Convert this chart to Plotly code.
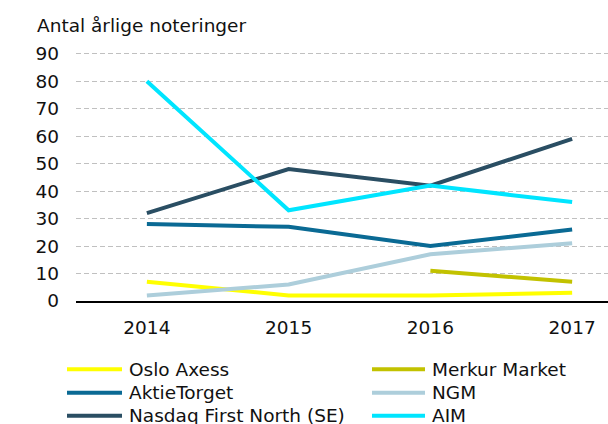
import plotly.graph_objects as go

years = ["2014", "2015", "2016", "2017"]
series_names = ["Oslo Axess", "Merkur Market", "AktieTorget", "NGM",
                "Nasdaq First North (SE)", "AIM"]
oslo_axess = [7, 2, 2, 3]
merkur_market = [None, None, 11, 7]
aktietorget = [28, 27, 20, 26]
ngm = [2, 6, 17, 21]
nasdaq_fn_se = [32, 48, 42, 59]
aim = [80, 33, 42, 36]
y_ticks = [0, 10, 20, 30, 40, 50, 60, 70, 80, 90]
y_title = "Antal årlige noteringer"

colors = ["#FFFF00", "#C2C200", "#0A6A94", "#ADCEDB", "#2A4E63", "#00E5FF"]
values = [oslo_axess, merkur_market, aktietorget, ngm, nasdaq_fn_se, aim]

W, H = 608, 440
FONT = "DejaVu Sans"
FS = 18.5


def page_y(t):
    # compensate for the vertical mapping observed in the rendered picture
    return (t - 4.4) / 0.968


fig = go.Figure()
for name, vals, col in zip(series_names, values, colors):
    fig.add_trace(go.Scatter(x=years, y=vals, mode="lines", name=name,
                             line=dict(color=col, width=4),
                             connectgaps=False, showlegend=False))

px = lambda x: x / W
py = lambda y: 1 - page_y(y) / H

legend_cols = [(67, 122, 127), (372, 425, 430)]
legend_rows = [369.5, 393, 416]
shapes = []
annotations = []
for i, (name, col) in enumerate(zip(series_names, colors)):
    c = legend_cols[i % 2]
    r = legend_rows[i // 2]
    shapes.append(dict(type="line", xref="paper", yref="paper",
                       x0=px(c[0]), x1=px(c[1]), y0=py(r), y1=py(r),
                       line=dict(color=col, width=4)))
    annotations.append(dict(text=name, xref="paper", yref="paper",
                            x=px(c[2]), y=py(r), xanchor="left",
                            yanchor="middle", showarrow=False,
                            font=dict(family=FONT, size=FS, color="#111111")))

annotations.append(dict(text=y_title, xref="paper", yref="paper",
                        x=px(35), y=py(25), xanchor="left", yanchor="middle",
                        showarrow=False,
                        font=dict(family=FONT, size=FS, color="#111111")))

fig.update_layout(
    width=W, height=H,
    margin=dict(l=0, r=0, t=0, b=0),
    paper_bgcolor="white", plot_bgcolor="white",
    font=dict(family=FONT, size=FS, color="#111111"),
    xaxis=dict(domain=[76 / W, 1], type="category", range=[-0.5, 3.253],
               showgrid=False, showline=True, linecolor="#000000",
               linewidth=1.5, ticks="", zeroline=False,
               ticklabelstandoff=9,
               tickfont=dict(family=FONT, size=FS, color="#111111")),
    yaxis=dict(domain=[py(301), py(47.8)], range=[0, 92],
               tickvals=y_ticks, showgrid=True, gridcolor="#C0C0C0",
               griddash="5px,3px", gridwidth=1, zeroline=False,
               showline=False, ticks="", ticklabelstandoff=16,
               tickfont=dict(family=FONT, size=FS, color="#111111")),
    shapes=shapes, annotations=annotations,
)

fig.write_html("out.html", config={"displayModeBar": False})
with open("out.html", "r", encoding="utf-8") as f:
    html = f.read()
html = html.replace("<head>", "<head><style>html,body{margin:0;padding:0;overflow:hidden;}</style>", 1)
with open("out.html", "w", encoding="utf-8") as f:
    f.write(html)
